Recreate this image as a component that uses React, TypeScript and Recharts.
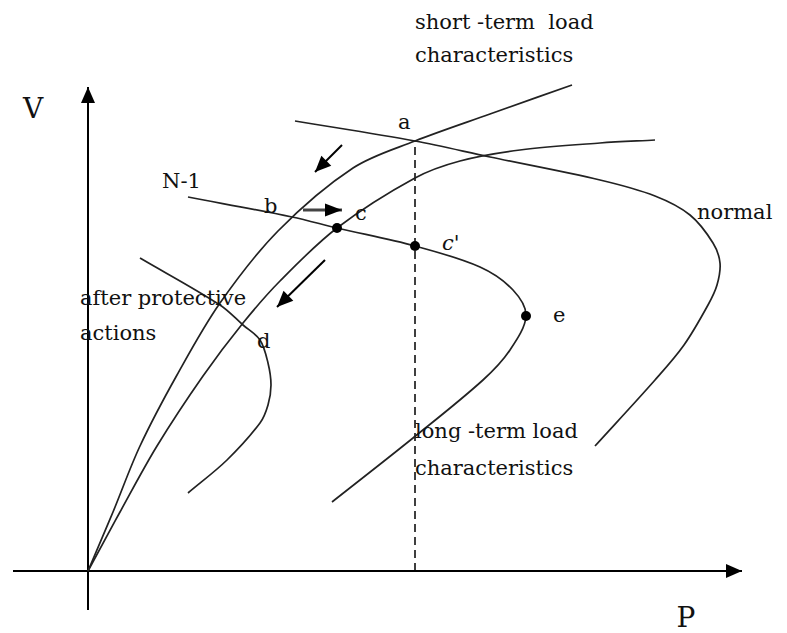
import React from "react";
import { ComposedChart, Line, Scatter, XAxis, YAxis } from "recharts";

// P/V units (origin at the axes crossing)
const shortTerm = [
    { p: 0, v: 0 },
    { p: 0.5, v: 1.18 },
    { p: 1.04, v: 2.5 },
    { p: 1.78, v: 3.92 },
    { p: 2.64, v: 5.36 },
    { p: 3.8, v: 6.8 },
    { p: 5.3, v: 8.06 },
    { p: 6.54, v: 8.6 },
    { p: 8.04, v: 9.14 },
    { p: 9.68, v: 9.72 },
];

const longTerm = [
    { p: 0, v: 0 },
    { p: 0.64, v: 1.18 },
    { p: 1.38, v: 2.5 },
    { p: 2.3, v: 3.9 },
    { p: 3.1, v: 4.96 },
    { p: 3.84, v: 5.8 },
    { p: 4.98, v: 6.86 },
    { p: 6.54, v: 7.86 },
    { p: 7.44, v: 8.2 },
    { p: 8.64, v: 8.42 },
    { p: 10.24, v: 8.56 },
    { p: 11.34, v: 8.62 },
];

const normal = [
    { p: 4.14, v: 9.0 },
    { p: 6.54, v: 8.6 },
    { p: 8.04, v: 8.28 },
    { p: 10.24, v: 7.82 },
    { p: 11.34, v: 7.5 },
    { p: 12.04, v: 7.12 },
    { p: 12.5, v: 6.56 },
    { p: 12.64, v: 6.16 },
    { p: 12.58, v: 5.72 },
    { p: 12.4, v: 5.32 },
    { p: 11.92, v: 4.52 },
    { p: 11.34, v: 3.82 },
    { p: 10.14, v: 2.5 },
];

const nMinus1 = [
    { p: 2.0, v: 7.48 },
    { p: 4.08, v: 7.08 },
    { p: 4.98, v: 6.86 },
    { p: 6.54, v: 6.5 },
    { p: 7.84, v: 6.08 },
    { p: 8.5, v: 5.62 },
    { p: 8.76, v: 5.1 },
    { p: 8.44, v: 4.42 },
    { p: 7.9, v: 3.82 },
    { p: 6.5, v: 2.66 },
    { p: 4.88, v: 1.38 },
];

const afterProtective = [
    { p: 1.04, v: 6.26 },
    { p: 2.64, v: 5.32 },
    { p: 3.1, v: 4.92 },
    { p: 3.44, v: 4.62 },
    { p: 3.6, v: 4.16 },
    { p: 3.66, v: 3.72 },
    { p: 3.6, v: 3.32 },
    { p: 3.44, v: 2.96 },
    { p: 2.78, v: 2.22 },
    { p: 2.0, v: 1.56 },
];

const markedPoints = [
    { p: 4.98, v: 6.86 }, // c
    { p: 6.54, v: 6.5 }, // c'
    { p: 8.76, v: 5.1 }, // e
];

const pointA = { p: 6.54, v: 8.6 };

const xAxisLine = [{ p: -1.5, v: 0 }, { p: 13.08, v: 0 }];
const yAxisLine = [{ p: 0, v: -0.78 }, { p: 0, v: 9.68 }];

const arrowA = [{ p: 5.08, v: 8.52 }, { p: 4.54, v: 7.98 }];
const arrowBC = [{ p: 4.3, v: 7.22 }, { p: 5.08, v: 7.22 }];
const arrowD = [{ p: 4.74, v: 6.22 }, { p: 3.78, v: 5.28 }];

const annotations = [
    { p: 6.54, v: 10.84, text: "short -term\u00a0\u00a0load" },
    { p: 6.54, v: 10.18, text: "characteristics" },
    { p: 6.2, v: 8.84, text: "a" },
    { p: 1.48, v: 7.66, text: "N-1" },
    { p: 3.52, v: 7.16, text: "b" },
    { p: 5.34, v: 7.02, text: "c" },
    { p: 7.08, v: 6.42, text: "c'", italic: true },
    { p: 12.18, v: 7.04, text: "normal" },
    { p: 9.3, v: 4.98, text: "e" },
    { p: -0.16, v: 5.32, text: "after protective" },
    { p: -0.16, v: 4.62, text: "actions" },
    { p: 3.38, v: 4.46, text: "d" },
    { p: 6.54, v: 2.66, text: "long -term load" },
    { p: 6.54, v: 1.92, text: "characteristics" },
];

const axisNames = [
    { p: -1.1, v: 9.06, text: "V" },
    { p: 11.96, v: -1.12, text: "P" },
];

const curveStroke = "#222";

// smooth curve through the points, tangents weighted by chord length
const chordSpline = (context: any) => {
    let pts: [number, number][] = [];
    return {
        areaStart() {},
        areaEnd() {},
        lineStart() {
            pts = [];
        },
        point(x: number, y: number) {
            pts.push([+x, +y]);
        },
        lineEnd() {
            const n = pts.length;
            if (!n) return;
            context.moveTo(pts[0][0], pts[0][1]);
            if (n < 3) {
                for (let i = 1; i < n; i++) context.lineTo(pts[i][0], pts[i][1]);
                return;
            }
            const d: number[] = [];
            for (let i = 0; i < n - 1; i++) {
                d.push(Math.hypot(pts[i + 1][0] - pts[i][0], pts[i + 1][1] - pts[i][1]) || 1);
            }
            const m: [number, number][] = pts.map((pt, i) => {
                if (i === 0) return [(pts[1][0] - pt[0]) / d[0], (pts[1][1] - pt[1]) / d[0]];
                if (i === n - 1) return [(pt[0] - pts[i - 1][0]) / d[i - 1], (pt[1] - pts[i - 1][1]) / d[i - 1]];
                const s = d[i - 1] + d[i];
                return [(pts[i + 1][0] - pts[i - 1][0]) / s, (pts[i + 1][1] - pts[i - 1][1]) / s];
            });
            for (let i = 0; i < n - 1; i++) {
                const k = d[i] / 3;
                context.bezierCurveTo(
                    pts[i][0] + m[i][0] * k,
                    pts[i][1] + m[i][1] * k,
                    pts[i + 1][0] - m[i + 1][0] * k,
                    pts[i + 1][1] - m[i + 1][1] * k,
                    pts[i + 1][0],
                    pts[i + 1][1]
                );
            }
        },
    };
};

// arrow head drawn at the last point of a two-point segment
const arrowDot = (seg: { p: number; v: number }[], len: number, half: number) => (props: any) => {
    const { cx, cy, index } = props;
    if (index !== seg.length - 1) return <g key={`n-${index}`} />;
    const a = seg[seg.length - 2];
    const b = seg[seg.length - 1];
    const deg = (Math.atan2(-(b.v - a.v), b.p - a.p) * 180) / Math.PI;
    return (
        <polygon
            key={`h-${index}`}
            points={`0,0 ${-len},${-half} ${-len},${half}`}
            transform={`translate(${cx},${cy}) rotate(${deg})`}
            fill="#000"
        />
    );
};

const renderText = (props: any) => {
    const { cx, cy, payload } = props;
    return (
        <text
            x={cx}
            y={cy}
            fontFamily="DejaVu Serif"
            fontSize={21}
            fontStyle={payload.italic ? "italic" : "normal"}
            fill="#111"
        >
            {payload.text}
        </text>
    );
};

const renderAxisName = (props: any) => {
    const { cx, cy, payload } = props;
    return (
        <text x={cx} y={cy} textAnchor="middle" fontFamily="DejaVu Serif" fontSize={28} fill="#111">
            {payload.text}
        </text>
    );
};

const renderDot = (props: any) => <circle cx={props.cx} cy={props.cy} r={5} fill="#000" />;

const App: React.FC = () => {
    const dashed = [{ p: pointA.p, v: 0 }, pointA];
    return (
        <div style={{ position: "absolute", left: 0, top: 0, background: "#fff" }}>
            <ComposedChart width={787} height={633} margin={{ top: 0, right: 0, bottom: 0, left: 0 }}>
                <XAxis type="number" dataKey="p" domain={[-1.76, 13.98]} allowDataOverflow hide />
                <YAxis type="number" dataKey="v" domain={[-1.24, 11.42]} allowDataOverflow hide />

                <Line data={xAxisLine} dataKey="v" type="linear" stroke="#000" strokeWidth={2}
                    dot={arrowDot(xAxisLine, 16, 7)} activeDot={false} isAnimationActive={false} />
                <Line data={yAxisLine} dataKey="v" type="linear" stroke="#000" strokeWidth={2}
                    dot={arrowDot(yAxisLine, 16, 7)} activeDot={false} isAnimationActive={false} />
                <Line data={dashed} dataKey="v" type="linear" stroke="#000" strokeWidth={1.5}
                    strokeDasharray="8 5" dot={false} activeDot={false} isAnimationActive={false} />

                <Line data={shortTerm} dataKey="v" type={chordSpline as any} stroke={curveStroke} strokeWidth={1.7}
                    dot={false} activeDot={false} isAnimationActive={false} />
                <Line data={longTerm} dataKey="v" type={chordSpline as any} stroke={curveStroke} strokeWidth={1.7}
                    dot={false} activeDot={false} isAnimationActive={false} />
                <Line data={normal} dataKey="v" type={chordSpline as any} stroke={curveStroke} strokeWidth={1.7}
                    dot={false} activeDot={false} isAnimationActive={false} />
                <Line data={nMinus1} dataKey="v" type={chordSpline as any} stroke={curveStroke} strokeWidth={1.7}
                    dot={false} activeDot={false} isAnimationActive={false} />
                <Line data={afterProtective} dataKey="v" type={chordSpline as any} stroke={curveStroke} strokeWidth={1.7}
                    dot={false} activeDot={false} isAnimationActive={false} />

                <Line data={arrowA} dataKey="v" type="linear" stroke="#000" strokeWidth={2}
                    dot={arrowDot(arrowA, 16, 7)} activeDot={false} isAnimationActive={false} />
                <Line data={arrowBC} dataKey="v" type="linear" stroke="#444" strokeWidth={3}
                    dot={arrowDot(arrowBC, 17, 6.5)} activeDot={false} isAnimationActive={false} />
                <Line data={arrowD} dataKey="v" type="linear" stroke="#000" strokeWidth={2}
                    dot={arrowDot(arrowD, 16, 7)} activeDot={false} isAnimationActive={false} />

                <Scatter data={markedPoints} dataKey="v" shape={renderDot} isAnimationActive={false} />
                <Scatter data={annotations} dataKey="v" shape={renderText} isAnimationActive={false} />
                <Scatter data={axisNames} dataKey="v" shape={renderAxisName} isAnimationActive={false} />
            </ComposedChart>
        </div>
    );
};

export default App;
